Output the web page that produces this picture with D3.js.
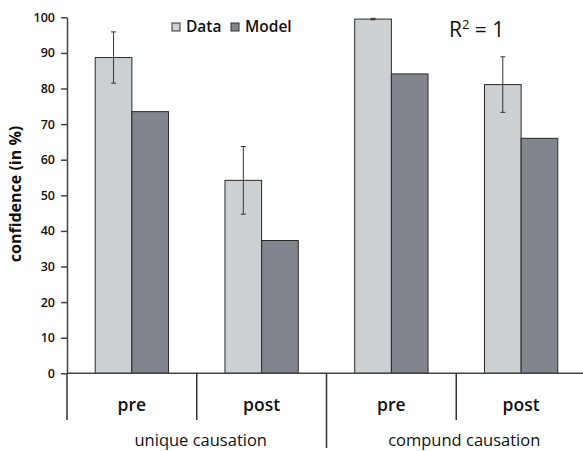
<!DOCTYPE html>
<html>
<head>
<meta charset="utf-8">
<script src="https://cdn.jsdelivr.net/npm/d3@7"></script>
<style>
  body { margin: 0; background: #fff; }
  svg text { font-family: "Open Sans", "DejaVu Sans", sans-serif; fill: #111; }
</style>
</head>
<body>
<script>
// chart data
var categories = ["pre", "post", "pre", "post"];
var groups = ["unique causation", "compund causation"];
var series = ["Data", "Model"];
var dataValues = [88.7, 54.2, 99.5, 81.1];
var dataErrors = [7.2, 9.5, 0.2, 7.8];
var modelValues = [73.5, 37.3, 84.1, 66.0];
var yTicks = [0, 10, 20, 30, 40, 50, 60, 70, 80, 90, 100];

var W = 583, H = 451;
var plotLeft = 67, plotRight = 586, plotTop = 17.3, plotBottom = 373.3;
var colors = { Data: "#cdd0d3", Model: "#82858c" };
var groupLabelShift = [4, 8];

var svg = d3.select("body").append("svg")
  .attr("width", W)
  .attr("height", H);

var x = d3.scaleBand()
  .domain(d3.range(categories.length))
  .range([plotLeft, plotRight])
  .padding(0);

var xs = d3.scaleBand()
  .domain(series)
  .range([0, x.bandwidth()])
  .paddingInner(0)
  .paddingOuter(0.77);

var y = d3.scaleLinear()
  .domain([0, 100])
  .range([plotBottom, plotTop]);

// bars
var rows = categories.map(function(c, i) {
  return [
    { i: i, s: "Data", v: dataValues[i], e: dataErrors[i] },
    { i: i, s: "Model", v: modelValues[i], e: 0 }
  ];
});

var g = svg.selectAll("g.cat")
  .data(rows)
  .enter()
  .append("g")
  .attr("class", "cat")
  .attr("transform", function(d, i) { return "translate(" + x(i) + ",0)"; });

g.selectAll("rect")
  .data(function(d) { return d; })
  .enter()
  .append("rect")
  .attr("x", function(d) { return xs(d.s); })
  .attr("y", function(d) { return y(d.v); })
  .attr("width", xs.bandwidth())
  .attr("height", function(d) { return y(0) - y(d.v); })
  .attr("fill", function(d) { return colors[d.s]; })
  .attr("stroke", "#2a2a2a")
  .attr("stroke-width", 1);

// error bars
var err = g.selectAll("g.err")
  .data(function(d) { return d.filter(function(r) { return r.e > 0; }); })
  .enter()
  .append("g")
  .attr("class", "err")
  .attr("stroke", "#333")
  .attr("stroke-width", 1);

err.append("line")
  .attr("x1", function(d) { return xs(d.s) + xs.bandwidth() / 2; })
  .attr("x2", function(d) { return xs(d.s) + xs.bandwidth() / 2; })
  .attr("y1", function(d) { return y(d.v + d.e); })
  .attr("y2", function(d) { return y(d.v - d.e); });

[1, -1].forEach(function(sign) {
  err.append("line")
    .attr("x1", function(d) { return xs(d.s) + xs.bandwidth() / 2 - 2.5; })
    .attr("x2", function(d) { return xs(d.s) + xs.bandwidth() / 2 + 2.5; })
    .attr("y1", function(d) { return y(d.v + sign * d.e); })
    .attr("y2", function(d) { return y(d.v + sign * d.e); });
});

// y axis
var yAxis = svg.append("g")
  .attr("transform", "translate(" + plotLeft + ",0)")
  .call(d3.axisLeft(y).tickValues(yTicks).tickSize(6).tickPadding(6).tickSizeOuter(0));
yAxis.select(".domain").attr("stroke", "#444").attr("stroke-width", 1.5);
yAxis.selectAll(".tick line").attr("stroke", "#444").attr("stroke-width", 1.5);
yAxis.selectAll(".tick text")
  .attr("font-size", "12.5px")
  .attr("font-weight", "600")
  .attr("font-family", "'Open Sans', sans-serif")
  .attr("fill", "#111");

svg.append("text")
  .attr("transform", "translate(21," + 194 + ") rotate(-90)")
  .attr("text-anchor", "middle")
  .attr("font-size", "16px")
  .attr("font-weight", "bold")
  .text("confidence (in %)");

// x axis line and separators
svg.append("line")
  .attr("x1", plotLeft).attr("x2", W)
  .attr("y1", y(0)).attr("y2", y(0))
  .attr("stroke", "#444").attr("stroke-width", 1.5);

svg.selectAll("line.sep")
  .data(d3.range(categories.length))
  .enter()
  .append("line")
  .attr("class", "sep")
  .attr("x1", function(d) { return x(d); })
  .attr("x2", function(d) { return x(d); })
  .attr("y1", y(0))
  .attr("y2", function(d) { return (d == 2) ? 448 : 420; })
  .attr("stroke", "#333")
  .attr("stroke-width", 1.5);

svg.selectAll("text.cat")
  .data(categories)
  .enter()
  .append("text")
  .attr("class", "cat")
  .attr("x", function(d, i) { return x(i) + x.bandwidth() / 2; })
  .attr("y", 411)
  .attr("text-anchor", "middle")
  .attr("font-size", "17.5px")
  .attr("font-weight", "600")
  .text(function(d) { return d; });

svg.selectAll("text.grp")
  .data(groups)
  .enter()
  .append("text")
  .attr("class", "grp")
  .attr("x", function(d, i) { return x(i * 2) + x.bandwidth() + groupLabelShift[i]; })
  .attr("y", 446)
  .attr("text-anchor", "middle")
  .attr("font-size", "16.5px")
  .text(function(d) { return d; });

// legend
var legX = [172, 231];
var leg = svg.selectAll("g.leg")
  .data(series)
  .enter()
  .append("g")
  .attr("class", "leg")
  .attr("transform", function(d, i) { return "translate(" + legX[i] + ",23)"; });

leg.append("rect")
  .attr("width", 8).attr("height", 8)
  .attr("fill", function(d) { return colors[d]; })
  .attr("stroke", "#333").attr("stroke-width", 1);

leg.append("text")
  .attr("x", 14)
  .attr("y", 9)
  .attr("font-size", "15.5px")
  .attr("font-weight", "600")
  .text(function(d) { return d; });

// R squared label
var r2 = svg.append("text")
  .attr("x", 449)
  .attr("y", 37)
  .attr("font-size", "21px");
r2.append("tspan").text("R");
r2.append("tspan").attr("font-size", "13px").attr("dy", -8).text("2");
r2.append("tspan").attr("dy", 8).text(" = 1");
</script>
</body>
</html>
